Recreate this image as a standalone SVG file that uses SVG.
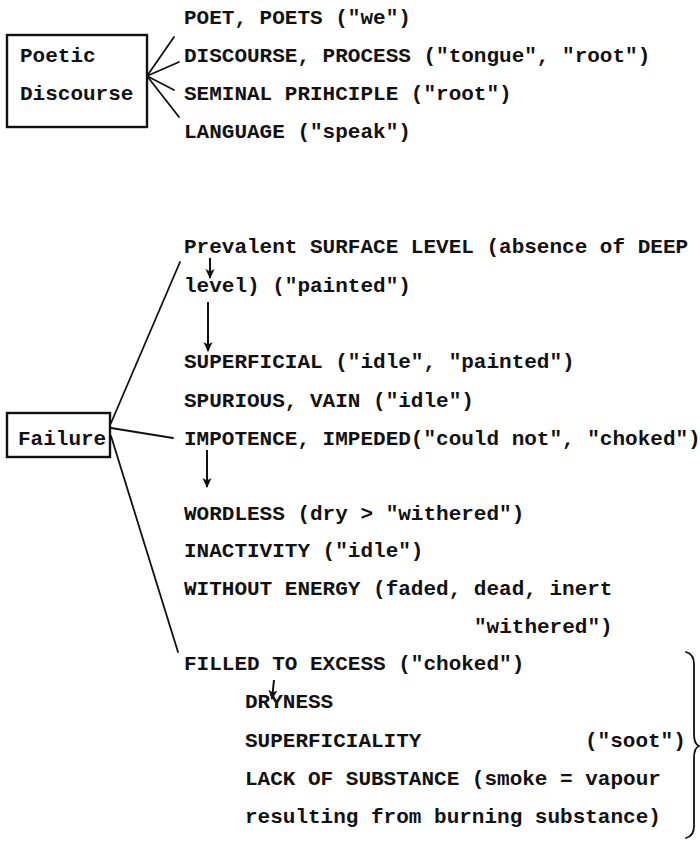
<svg xmlns="http://www.w3.org/2000/svg" width="700" height="842" viewBox="0 0 700 842">
<style>
text{font-family:"Liberation Mono","Courier New",monospace;font-size:21px;font-weight:bold;fill:#111}
.box{fill:none;stroke:#111;stroke-width:2.4}
.ln{fill:none;stroke:#111;stroke-width:1.8;stroke-linecap:round}
.arr{fill:none;stroke:#111;stroke-width:2;marker-end:url(#ah)}
</style>
<defs>
<marker id="ah" viewBox="0 0 10 10" refX="9" refY="5" markerWidth="5" markerHeight="5" orient="auto" markerUnits="strokeWidth">
<path d="M0,0.5 L10,5 L0,9.5 L2.5,5 Z" fill="#111"/>
</marker>
</defs>
<rect width="700" height="842" fill="#fff"/>
<g id="poetic-discourse">
<rect class="box" x="7" y="35" width="140" height="92"/>
<text x="20" y="62">Poetic</text>
<text x="20" y="100">Discourse</text>
</g>
<g id="poetic-items">
<text x="184" y="24">POET, POETS ("we")</text>
<text x="184" y="62">DISCOURSE, PROCESS ("tongue", "root")</text>
<text x="184" y="100">SEMINAL PRIHCIPLE ("root")</text>
<text x="184" y="138">LANGUAGE ("speak")</text>
</g>
<g id="failure">
<rect class="box" x="7" y="413" width="103" height="44"/>
<text x="18" y="445">Failure</text>
</g>
<g id="failure-items">
<text x="184" y="253">Prevalent SURFACE LEVEL (absence of DEEP</text>
<text x="184" y="292">level) ("painted")</text>
<text x="184" y="368">SUPERFICIAL ("idle", "painted")</text>
<text x="184" y="407">SPURIOUS, VAIN ("idle")</text>
<text x="184" y="445">IMPOTENCE, IMPEDED("could not", "choked")</text>
<text x="184" y="520">WORDLESS (dry &gt; "withered")</text>
<text x="184" y="557">INACTIVITY ("idle")</text>
<text x="184" y="595">WITHOUT ENERGY (faded, dead, inert</text>
<text x="474" y="633">"withered")</text>
<text x="184" y="670">FILLED TO EXCESS ("choked")</text>
<text x="245" y="708">DRYNESS</text>
<text x="245" y="747">SUPERFICIALITY</text>
<text x="585" y="747">("soot")</text>
<text x="245" y="785">LACK OF SUBSTANCE (smoke = vapour</text>
<text x="245" y="823">resulting from burning substance)</text>
</g>
<g id="connectors">
<line class="ln" x1="147" y1="76" x2="174" y2="37"/>
<line class="ln" x1="147" y1="76" x2="179" y2="62"/>
<line class="ln" x1="147" y1="76" x2="174" y2="90"/>
<line class="ln" x1="147" y1="76" x2="179" y2="117"/>
<line class="ln" x1="111" y1="423" x2="180" y2="262"/>
<line class="ln" x1="111" y1="428" x2="173" y2="438"/>
<line class="ln" x1="111" y1="436" x2="178" y2="652"/>
<line class="arr" x1="210" y1="258" x2="210" y2="278"/>
<line class="arr" x1="208" y1="302" x2="208" y2="351"/>
<line class="arr" x1="207" y1="450" x2="207" y2="487"/>
<line class="arr" x1="274" y1="680" x2="272" y2="699"/>
<path class="ln" d="M686,652 Q694,654 694,664 L694,734 Q694,744 699,746 Q694,748 694,758 L694,826 Q694,836 686,838"/>
</g>
</svg>
